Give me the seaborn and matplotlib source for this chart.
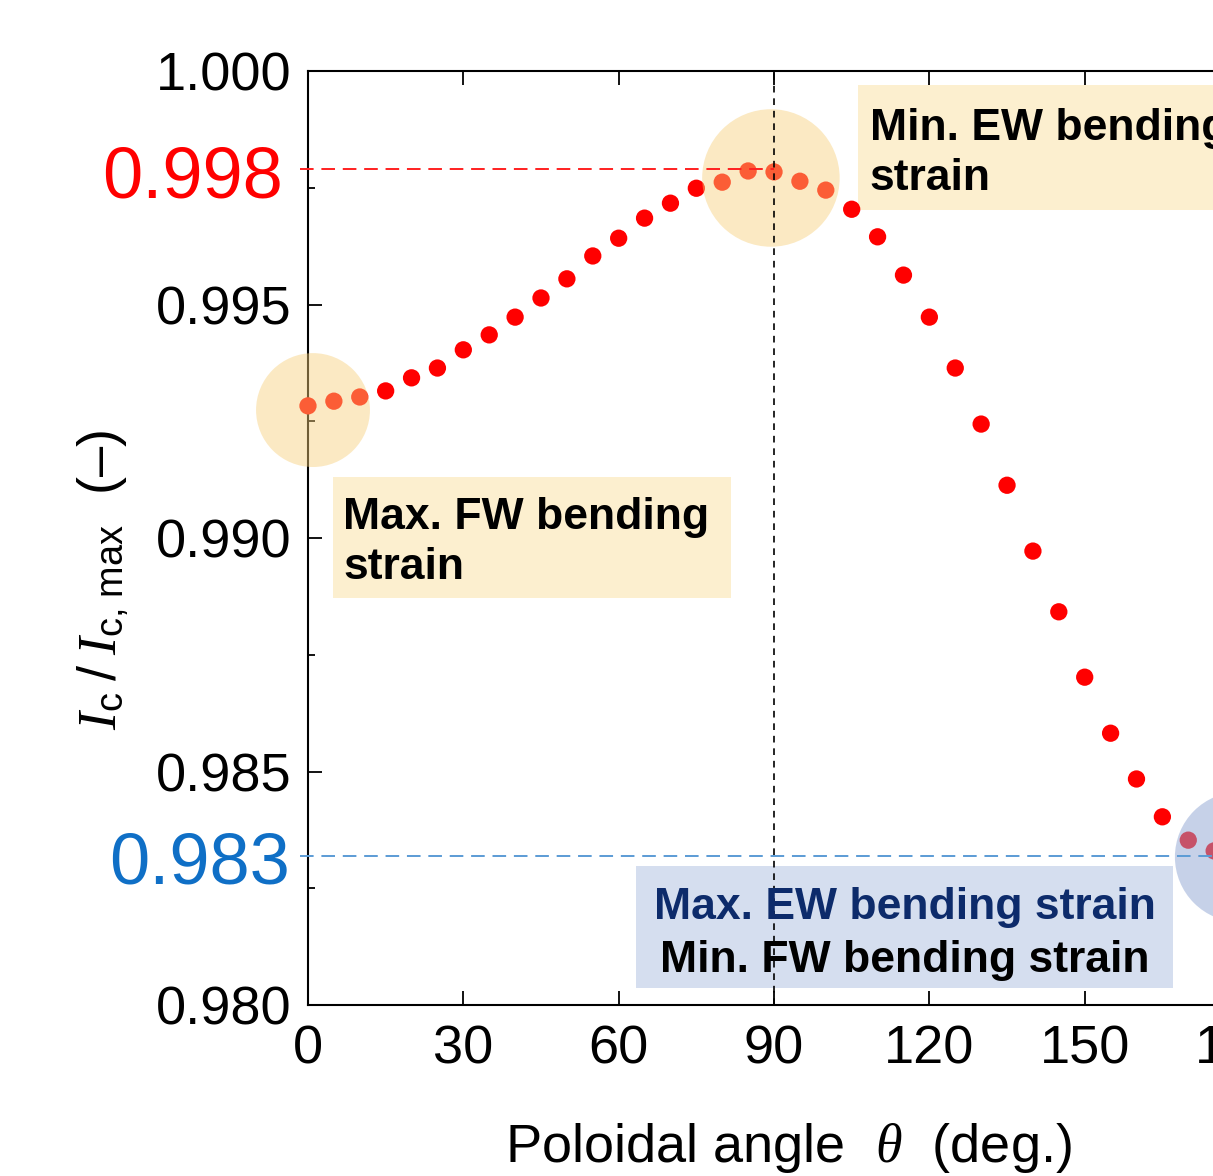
import numpy as np
import pandas as pd
import matplotlib
matplotlib.use("Agg")
import matplotlib.pyplot as plt
import matplotlib.transforms as mtransforms
from matplotlib.patches import Rectangle
from matplotlib.ticker import MultipleLocator, FormatStrFormatter
import seaborn as sns

# ---------------- data ----------------
angle_deg = [0, 5, 10, 15, 20, 25, 30, 35, 40, 45, 50, 55, 60, 65, 70, 75, 80, 85, 90,
             95, 100, 105, 110, 115, 120, 125, 130, 135, 140, 145, 150, 155, 160, 165,
             170, 175, 180]
ic_ratio = [0.99283, 0.99293, 0.99302, 0.99315, 0.99343, 0.99364, 0.99403, 0.99435,
            0.99473, 0.99514, 0.99555, 0.99604, 0.99642, 0.99685, 0.99717, 0.99749,
            0.99762, 0.99786, 0.99784, 0.99764, 0.99745, 0.99704, 0.99645, 0.99563,
            0.99473, 0.99364, 0.99244, 0.99113, 0.98972, 0.98842, 0.98702, 0.98582,
            0.98484, 0.98403, 0.98353, 0.98330, 0.98325]
x_ticks = [0, 30, 60, 90, 120, 150, 180]
y_ticks = [0.980, 0.985, 0.990, 0.995, 1.000]
max_level = 0.9979      # shown as 0.998
min_level = 0.9832      # shown as 0.983
max_label = "0.998"
min_label = "0.983"
label_max_fw = "Max. FW bending\nstrain"
label_min_ew = "Min. EW bending\nstrain"
label_max_ew = "Max. EW bending strain"
label_min_fw = "Min. FW bending strain"

df = pd.DataFrame({"angle": angle_deg, "ratio": ic_ratio})

# ---------------- style ----------------
sns.set_theme(style="ticks")
plt.rcParams["font.family"] = ["Liberation Sans", "DejaVu Sans"]
plt.rcParams["mathtext.fontset"] = "custom"
plt.rcParams["mathtext.it"] = "Liberation Serif:italic"
plt.rcParams["mathtext.rm"] = "Liberation Sans"
plt.rcParams["mathtext.bf"] = "Liberation Sans:bold"
plt.rcParams["text.color"] = "black"
plt.rcParams["axes.labelcolor"] = "black"
plt.rcParams["xtick.color"] = "black"
plt.rcParams["ytick.color"] = "black"

fig = plt.figure(figsize=(12.13, 11.76), dpi=100)
ax = fig.add_axes([0.2539, 0.1454, 0.7684, 0.7942])

sns.scatterplot(data=df, x="angle", y="ratio", color="#ff0000", s=155,
                edgecolor="none", linewidth=0, ax=ax, zorder=4, clip_on=False)

ax.set_xlim(0, 180)
ax.set_ylim(0.980, 1.000)
ax.set_xticks(x_ticks)
ax.set_yticks(y_ticks)
ax.yaxis.set_major_formatter(FormatStrFormatter("%.3f"))
ax.yaxis.set_minor_locator(MultipleLocator(0.0025))

for sp in ax.spines.values():
    sp.set_linewidth(1.5)
    sp.set_color("black")
    sp.set_visible(True)

ax.tick_params(axis="both", which="major", direction="in", length=10, width=1.3,
               labelsize=39, colors="black")
ax.tick_params(axis="both", which="minor", direction="in", length=5, width=1.3)
ax.tick_params(axis="x", top=True, pad=14)
ax.tick_params(axis="y", pad=12)

ax.set_xlabel(r"Poloidal angle  $\theta$  (deg.)", fontsize=39, color="black")
ax.xaxis.set_label_coords(0.515, -0.124)
ax.set_ylabel(r"$I_{\rm c}\;/\;I_{\rm c,\,max}$  (–)", fontsize=39, color="black")
ax.yaxis.set_label_coords(-0.19, 0.455)

# highlight circles (semi transparent, over the points)
ax.scatter([0.97], [0.99274], s=6724, color="#f7cf7a", alpha=0.45,
           edgecolor="none", zorder=5, clip_on=False)
ax.scatter([89.4], [0.99771], s=9800, color="#f7cf7a", alpha=0.45,
           edgecolor="none", zorder=5, clip_on=False)
ax.scatter([180], [0.98317], s=8800, color="#8fa5d3", alpha=0.5,
           edgecolor="none", zorder=5, clip_on=False)

# reference lines
ax.plot([-1.6, 90], [max_level, max_level], color="#ff2020", lw=1.4,
        dashes=(7, 4), zorder=6, clip_on=False)
ax.plot([-1.6, 180], [min_level, min_level], color="#5b9bd5", lw=1.4,
        dashes=(7, 4), zorder=6, clip_on=False)
ax.axvline(90, color="black", lw=1.2, dashes=(4, 3.5), zorder=6)

# coloured level labels
trans = mtransforms.blended_transform_factory(ax.transAxes, ax.transData)
ax.text(-0.027, max_level - 0.00021, max_label, transform=trans, color="#ff0000",
        fontsize=52, ha="right", va="center", clip_on=False)
ax.text(-0.019, min_level - 0.00021, min_label, transform=trans, color="#0f6fc6",
        fontsize=52, ha="right", va="center", clip_on=False)

# annotation boxes
ax.add_patch(Rectangle((4.8, 0.98872), 76.9, 0.00259, facecolor="#fcefcf",
                       edgecolor="none", zorder=2))
ax.text(6.8, 0.98990, label_max_fw, fontsize=32, fontweight="bold", color="black",
        ha="left", va="center", linespacing=1.28, zorder=7)

ax.add_patch(Rectangle((106.2, 0.99702), 80, 0.00268, facecolor="#fcefcf",
                       edgecolor="none", zorder=2, clip_on=False))
ax.text(108.5, 0.99824, label_min_ew, fontsize=32, fontweight="bold", color="black",
        ha="left", va="center", linespacing=1.28, zorder=7, clip_on=False)

ax.add_patch(Rectangle((63.3, 0.98036), 103.8, 0.00262, facecolor="#d5deef",
                       edgecolor="none", zorder=2))
ax.text(115.2, 0.98208, label_max_ew, fontsize=32, fontweight="bold",
        color="#0d2b6b", ha="center", va="center", zorder=7)
ax.text(115.2, 0.98095, label_min_fw, fontsize=32, fontweight="bold",
        color="black", ha="center", va="center", zorder=7)

fig.savefig("out.png", dpi=100)
